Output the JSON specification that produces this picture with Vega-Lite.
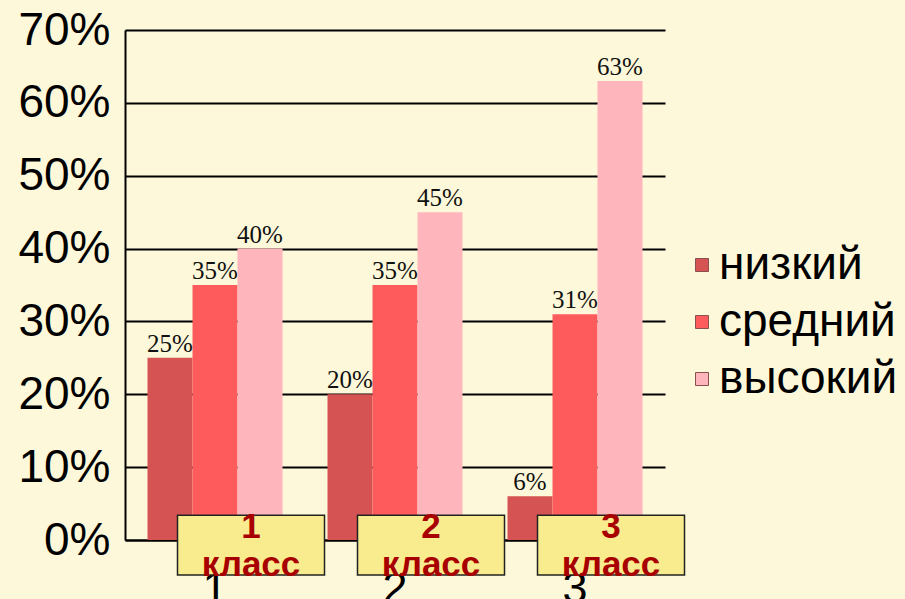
{
  "$schema": "https://vega.github.io/schema/vega-lite/v6.json",
  "width": 540,
  "height": 510,
  "autosize": {"type": "none"},
  "padding": {"left": 125, "top": 30, "right": 240, "bottom": 59},
  "background": "#fdf8d9",
  "config": {
    "view": {"stroke": null},
    "font": "Liberation Sans"
  },
  "datasets": {
    "bars": [
      {"group": "1", "level": "низкий", "value": 0.25},
      {"group": "1", "level": "средний", "value": 0.35},
      {"group": "1", "level": "высокий", "value": 0.40},
      {"group": "2", "level": "низкий", "value": 0.20},
      {"group": "2", "level": "средний", "value": 0.35},
      {"group": "2", "level": "высокий", "value": 0.45},
      {"group": "3", "level": "низкий", "value": 0.06},
      {"group": "3", "level": "средний", "value": 0.31},
      {"group": "3", "level": "высокий", "value": 0.63}
    ],
    "boxes": [
      {"group": "1", "label": "1\nкласс"},
      {"group": "2", "label": "2\nкласс"},
      {"group": "3", "label": "3\nкласс"}
    ]
  },
  "layer": [
    {
      "data": {"name": "bars"},
      "mark": {"type": "bar"},
      "encoding": {
        "x": {
          "field": "group", "type": "nominal",
          "scale": {"paddingInner": 0.25, "paddingOuter": 0.125},
          "axis": {
            "title": null, "labelAngle": 0, "ticks": false,
            "labelFontSize": 45, "labelColor": "#000", "labelPadding": 26,
            "domainColor": "#000", "domainWidth": 2
          }
        },
        "xOffset": {
          "field": "level", "type": "nominal",
          "sort": ["низкий", "средний", "высокий"],
          "scale": {"paddingInner": 0, "paddingOuter": 0}
        },
        "y": {
          "field": "value", "type": "quantitative",
          "scale": {"domain": [0, 0.7], "nice": false},
          "axis": {
            "title": null, "format": ".0%", "values": [0, 0.1, 0.2, 0.3, 0.4, 0.5, 0.6, 0.7],
            "labelOverlap": false, "labelBound": false,
            "ticks": false, "labelFontSize": 46, "labelColor": "#000", "labelPadding": 15,
            "domainColor": "#000", "domainWidth": 2,
            "grid": true, "gridColor": "#000", "gridWidth": 2
          }
        },
        "color": {
          "field": "level", "type": "nominal",
          "sort": ["низкий", "средний", "высокий"],
          "scale": {"domain": ["низкий", "средний", "высокий"], "range": ["#d65353", "#fe5c5c", "#ffb5bc"]},
          "legend": {
            "title": null, "orient": "none", "legendX": 554, "legendY": 212,
            "symbolType": "square", "symbolSize": 169, "symbolStrokeColor": "#8a5050", "symbolStrokeWidth": 1,
            "labelFontSize": 46, "labelColor": "#000", "labelOffset": -6, "labelLimit": 400,
            "rowPadding": 11, "padding": 0
          }
        }
      }
    },
    {
      "data": {"name": "bars"},
      "mark": {"type": "text", "baseline": "bottom", "dy": -1, "font": "Liberation Serif", "fontSize": 25, "color": "#111"},
      "encoding": {
        "x": {"field": "group", "type": "nominal"},
        "xOffset": {"field": "level", "type": "nominal", "sort": ["низкий", "средний", "высокий"]},
        "y": {"field": "value", "type": "quantitative"},
        "text": {"field": "value", "type": "quantitative", "format": ".0%"}
      }
    },
    {
      "data": {"name": "boxes"},
      "mark": {"type": "bar", "width": 147, "xOffset": 36, "fill": "#f9ec8e", "stroke": "#222", "strokeWidth": 1.5},
      "encoding": {
        "x": {"field": "group", "type": "nominal"},
        "y": {"datum": 0.034},
        "y2": {"datum": -0.048}
      }
    },
    {
      "data": {"name": "boxes"},
      "mark": {"type": "text", "xOffset": 36, "lineBreak": "\n", "lineHeight": 38, "baseline": "middle", "fontSize": 35, "fontWeight": "bold", "color": "#a80000"},
      "encoding": {
        "x": {"field": "group", "type": "nominal"},
        "y": {"datum": 0.018},
        "text": {"field": "label"}
      }
    }
  ]
}
